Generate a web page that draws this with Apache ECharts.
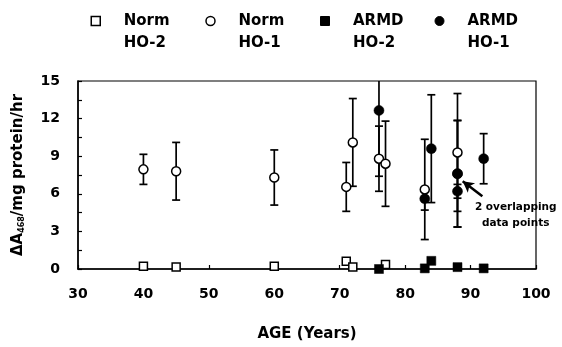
<!DOCTYPE html>
<html>
<head>
<meta charset="utf-8">
<script src="https://cdn.jsdelivr.net/npm/echarts@6/dist/echarts.min.js"></script>
<style>
html,body{margin:0;padding:0;background:#fff;}
#chart{width:562px;height:347px;}
</style>
</head>
<body>
<div id="chart"></div>
<script>
// ---- data ----
var xTicks = [30, 40, 50, 60, 70, 80, 90, 100];
var yTicks = [0, 3, 6, 9, 12, 15];

var seriesNames = ['Norm\nHO-2', 'Norm\nHO-1', 'ARMD\nHO-2', 'ARMD\nHO-1'];

var normHO2Age = [40, 45, 60, 71, 72, 77];
var normHO2Val = [0.22, 0.15, 0.22, 0.62, 0.15, 0.36];

var normHO1Age = [40, 45, 60, 71, 72, 76, 77, 83, 88];
var normHO1Val = [7.95, 7.8, 7.3, 6.55, 10.1, 8.8, 8.4, 6.35, 9.3];
var normHO1Err = [1.2, 2.3, 2.2, 1.95, 3.5, 2.6, 3.4, 4.0, 4.7];

var armdHO2Age = [76, 83, 84, 88, 92];
var armdHO2Val = [0.0, 0.05, 0.65, 0.15, 0.05];

var armdHO1Age = [76, 83, 84, 88, 88, 88, 92];
var armdHO1Val = [12.65, 5.6, 9.6, 7.6, 7.6, 6.2, 8.8];
var armdHO1Err = [5.25, 0.9, 4.3, 4.25, 4.25, 0.55, 2.0];

var noteText = '2 overlapping\ndata points';
var noteAnchor = [96.9, 5.6];
var noteArrow = [[91.8, 5.8], [88.8, 7.0]];

// ---- build ----
function pairs(a, b) { return a.map(function (x, i) { return [x, b[i]]; }); }
function triples(a, b, c) { return a.map(function (x, i) { return [x, b[i], c[i]]; }); }

var FONT = 'DejaVu Sans';

function errRender(params, api) {
  var x = api.value(0), y = api.value(1), e = api.value(2);
  var cs = params.coordSys;
  var top = api.coord([x, y + e]);
  var bot = api.coord([x, y - e]);
  var minY = cs.y, maxY = cs.y + cs.height;
  var t = Math.max(minY, top[1]);
  var b = Math.min(maxY, bot[1]);
  var cx = top[0], hw = 4;
  var st = { stroke: '#000', lineWidth: 1.7 };
  var children = [{ type: 'line', shape: { x1: cx, y1: t, x2: cx, y2: b }, style: st }];
  if (top[1] >= minY) children.push({ type: 'line', shape: { x1: cx - hw, y1: t, x2: cx + hw, y2: t }, style: st });
  if (bot[1] <= maxY) children.push({ type: 'line', shape: { x1: cx - hw, y1: b, x2: cx + hw, y2: b }, style: st });
  return { type: 'group', children: children };
}

var chart = echarts.init(document.getElementById('chart'));
chart.setOption({
  backgroundColor: '#fff',
  animation: false,
  textStyle: { fontFamily: FONT, fontWeight: 'bold', color: '#000' },
  legend: {
    left: 90.5,
    top: -12,
    padding: 0,
    itemWidth: 9,
    itemHeight: 9,
    itemGap: 26.5,
    selectedMode: false,
    formatter: function (n) { return ' \n' + n; },
    textStyle: {
      fontFamily: FONT, fontWeight: 'bold', fontSize: 15, color: '#000',
      lineHeight: 22, width: 55, padding: [0, 0, 0, 18.5]
    },
    data: [
      { name: seriesNames[0], icon: 'rect', itemStyle: { color: '#fff', borderColor: '#000', borderWidth: 1.5 } },
      { name: seriesNames[1], icon: 'circle', itemStyle: { color: '#fff', borderColor: '#000', borderWidth: 1.5 } },
      { name: seriesNames[2], icon: 'rect', itemStyle: { color: '#000', borderColor: '#000', borderWidth: 1 } },
      { name: seriesNames[3], icon: 'circle', itemStyle: { color: '#000', borderColor: '#000', borderWidth: 1 } }
    ]
  },
  grid: {
    left: 78, right: 26, top: 81, bottom: 75,
    show: true, borderColor: '#000', borderWidth: 1.2, backgroundColor: 'transparent'
  },
  xAxis: {
    type: 'value', min: xTicks[0], max: xTicks[xTicks.length - 1], interval: 10,
    name: 'AGE (Years)', nameLocation: 'middle', nameGap: 58,
    nameTextStyle: { fontFamily: FONT, fontWeight: 'bold', fontSize: 15, color: '#000' },
    axisLine: { lineStyle: { color: '#000', width: 1.5 } },
    axisTick: { inside: true, length: 4, lineStyle: { color: '#000', width: 1.2 } },
    axisLabel: { margin: 18, fontFamily: FONT, fontWeight: 'bold', fontSize: 14, color: '#000' },
    splitLine: { show: false }
  },
  yAxis: {
    type: 'value', min: yTicks[0], max: yTicks[yTicks.length - 1], interval: 3,
    name: '{b|ΔA}{s|468}{b|/mg protein/hr}', nameLocation: 'middle', nameGap: 52,
    nameTextStyle: {
      rich: {
        b: { fontFamily: FONT, fontWeight: 'bold', fontSize: 15, color: '#000' },
        s: { fontFamily: FONT, fontWeight: 'bold', fontSize: 8, color: '#000', verticalAlign: 'bottom', padding: [6, 0, 0, 0] }
      }
    },
    axisLine: { lineStyle: { color: '#000', width: 1.5 } },
    axisTick: { inside: true, length: 4, lineStyle: { color: '#000', width: 1.2 } },
    minorTick: { show: true, splitNumber: 2, length: 4, lineStyle: { color: '#000', width: 1.2 } },
    axisLabel: { margin: 18, fontFamily: FONT, fontWeight: 'bold', fontSize: 14, color: '#000' },
    splitLine: { show: false }
  },
  series: [
    {
      type: 'custom', name: 'errNormHO1', renderItem: errRender, z: 1, silent: true,
      data: triples(normHO1Age, normHO1Val, normHO1Err), encode: { x: 0, y: 1 }
    },
    {
      type: 'custom', name: 'errArmdHO1', renderItem: errRender, z: 1, silent: true,
      data: triples(armdHO1Age, armdHO1Val, armdHO1Err), encode: { x: 0, y: 1 }
    },
    {
      name: seriesNames[0], type: 'scatter', symbol: 'rect', symbolSize: 8, z: 3,
      itemStyle: { color: '#fff', borderColor: '#000', borderWidth: 1.5, opacity: 1 },
      data: pairs(normHO2Age, normHO2Val)
    },
    {
      name: seriesNames[1], type: 'scatter', symbol: 'circle', symbolSize: 9, z: 3,
      itemStyle: { color: '#fff', borderColor: '#000', borderWidth: 1.5, opacity: 1 },
      data: pairs(normHO1Age, normHO1Val)
    },
    {
      name: seriesNames[2], type: 'scatter', symbol: 'rect', symbolSize: 9, z: 4,
      itemStyle: { color: '#000', borderColor: '#000', borderWidth: 0.5, opacity: 1 },
      data: pairs(armdHO2Age, armdHO2Val)
    },
    {
      name: seriesNames[3], type: 'scatter', symbol: 'circle', symbolSize: 10, z: 4,
      itemStyle: { color: '#000', borderColor: '#000', borderWidth: 0.5, opacity: 1 },
      data: pairs(armdHO1Age, armdHO1Val),
      markLine: {
        silent: true, animation: false,
        symbol: ['none', 'arrow'], symbolSize: [9, 11],
        lineStyle: { color: '#000', width: 2.5, type: 'solid' },
        label: { show: false },
        data: [[{ coord: noteArrow[0] }, { coord: noteArrow[1] }]]
      },
      markPoint: {
        silent: true, symbol: 'circle', symbolSize: 1,
        itemStyle: { color: 'rgba(0,0,0,0)' },
        label: {
          show: true, formatter: noteText, position: 'bottom', distance: 0,
          fontFamily: FONT, fontWeight: 'bold', fontSize: 10.5, color: '#000',
          lineHeight: 16, align: 'center'
        },
        data: [{ coord: noteAnchor }]
      }
    }
  ]
});
</script>
</body>
</html>
